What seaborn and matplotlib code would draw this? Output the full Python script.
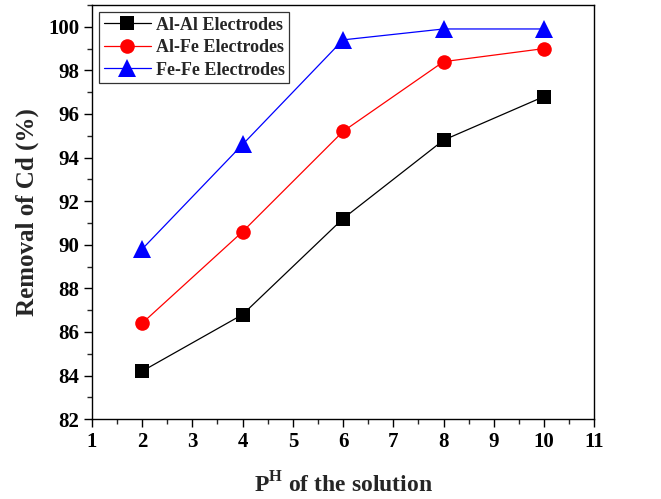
import matplotlib
matplotlib.use("Agg")
import matplotlib.pyplot as plt
import seaborn as sns
import pandas as pd
from matplotlib.ticker import MultipleLocator

sns.set_style("ticks")
plt.rcParams['font.family'] = ['Liberation Serif', 'DejaVu Serif']
plt.rcParams['font.weight'] = 'bold'
plt.rcParams['mathtext.fontset'] = 'custom'
plt.rcParams['mathtext.rm'] = 'Liberation Serif:bold'
plt.rcParams['mathtext.bf'] = 'Liberation Serif:bold'

ph = [2, 4, 6, 8, 10]
al_al = [84.2, 86.8, 91.2, 94.8, 96.8]
al_fe = [86.4, 90.6, 95.2, 98.4, 99.0]
fe_fe = [89.8, 94.6, 99.4, 99.9, 99.9]
series_names = ["Al-Al Electrodes", "Al-Fe Electrodes", "Fe-Fe Electrodes"]
colors = ["black", "red", "blue"]
markers = ["s", "o", "^"]
marker_sizes = [9.5, 10.5, 12.5]

rows = []
for name, vals in zip(series_names, [al_al, al_fe, fe_fe]):
    for x, y in zip(ph, vals):
        rows.append({"pH": x, "Removal": y, "Series": name})
df = pd.DataFrame(rows)

fig = plt.figure(figsize=(6.61, 4.99), dpi=100)
ax = fig.add_axes([0.139, 0.160, 0.760, 0.830])

sns.lineplot(data=df, x="pH", y="Removal", hue="Series", style="Series",
             palette=dict(zip(series_names, colors)),
             markers=dict(zip(series_names, markers)), dashes=False,
             markersize=10.5, markeredgewidth=0, linewidth=0.9, ax=ax)

for line, ms in zip(ax.lines[:3], marker_sizes):
    line.set_markersize(ms)

ax.set_xlim(1, 11)
ax.set_ylim(82, 101)
ax.xaxis.set_major_locator(MultipleLocator(1))
ax.xaxis.set_minor_locator(MultipleLocator(0.5))
ax.yaxis.set_minor_locator(MultipleLocator(1))
ax.set_yticks(range(82, 101, 2))
ax.tick_params(axis='both', which='major', direction='out', length=6, width=1,
               labelsize=15, colors='black', pad=3)
ax.tick_params(axis='both', which='minor', direction='out', length=3.5, width=1)
for lab in ax.get_xticklabels() + ax.get_yticklabels():
    lab.set_fontweight('bold')
for sp in ax.spines.values():
    sp.set_linewidth(1.0)
    sp.set_color('black')

ax.set_xlabel(r"P$^{\mathrm{H}}$ of the solution", fontsize=17, fontweight='bold')
ax.set_ylabel("Removal of Cd (%)", fontsize=18, fontweight='bold')
ax.xaxis.set_label_coords(0.5, -0.128)
ax.yaxis.set_label_coords(-0.106, 0.5)

leg = ax.legend(loc='upper left', fontsize=13, frameon=True, fancybox=False,
                edgecolor='black', borderaxespad=0.4, handlelength=2.6,
                handletextpad=0.3, labelspacing=0.3, borderpad=0.25)
leg.get_frame().set_linewidth(0.9)
for t in leg.get_texts():
    t.set_fontweight('bold')
for h, ms in zip(leg.legend_handles, marker_sizes):
    h.set_markersize(ms)

fig.savefig("out.png", dpi=100)
